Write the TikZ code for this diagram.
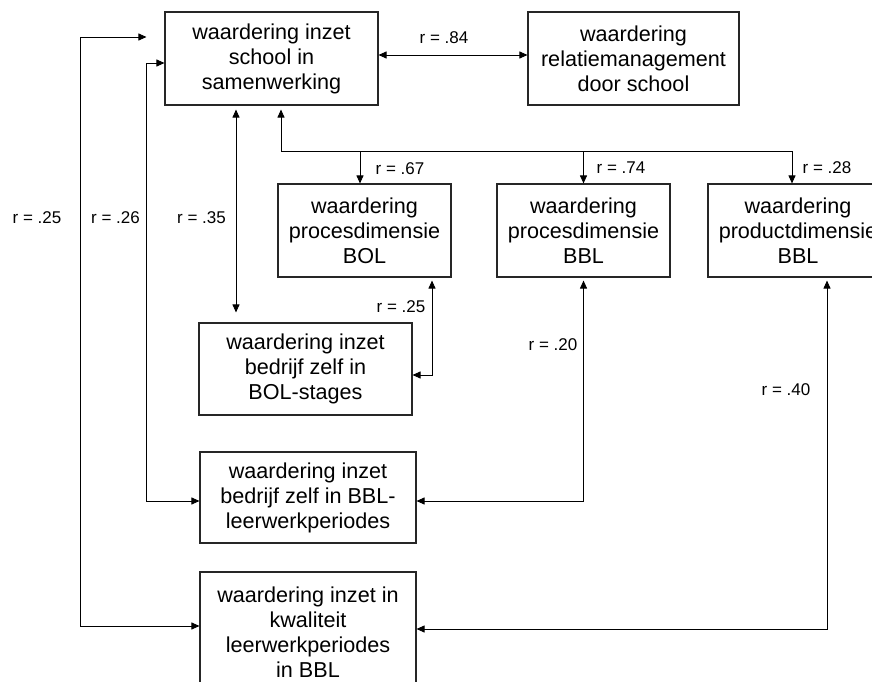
\documentclass[tikz,border=0pt]{standalone}
\usepackage{fontspec}
\setmainfont{Liberation Sans}
\usepackage{tikz}
\usetikzlibrary{positioning,calc,arrows.meta}

\begin{document}
\begin{tikzpicture}[x=1pt, y=-1pt,
	blok/.style={draw=black!85, line width=1.1pt, align=center, inner sep=0pt,
		minimum height=93pt, font=\fontsize{21.6}{25}\selectfont},
	lbl/.style={font=\fontsize{17}{20}\selectfont, inner sep=0pt},
	lijn/.style={line width=0.9pt, -{Triangle[length=8pt,width=7pt]}},
	dub/.style={line width=0.9pt, {Triangle[length=8pt,width=7pt]}-{Triangle[length=8pt,width=7pt]}}
	]
	\useasboundingbox (0,0) rectangle (872,682);
	\clip (0,0) rectangle (872,682);

	% boxes
	\node[blok, minimum width=213pt] (school) at (271.5,58.5) {waardering inzet\\school in\\samenwerking};
	\node[blok, minimum width=211pt] (relatie) at (633.5,58.5) {waardering\\relatiemanagement\\door school};
	\node[blok, minimum width=173pt] (bolproc) at (364.5,230.5) {waardering\\procesdimensie\\BOL};
	\node[blok, minimum width=173pt] (bblproc) at (583.5,230.5) {waardering\\procesdimensie\\BBL};
	\node[blok, minimum width=180pt] (product) at (798,230.5) {waardering\\productdimensie\\BBL};
	\node[blok, minimum width=213pt, minimum height=92pt] (bolstage) at (305.5,369) {waardering inzet\\bedrijf zelf in\\BOL-stages};
	\node[blok, minimum width=216pt, minimum height=91pt] (bblleer) at (308,497.5) {waardering inzet\\bedrijf zelf in BBL-\\leerwerkperiodes};
	\node[blok, minimum width=216pt, minimum height=120pt] (kwal) at (308,632) {waardering inzet in\\kwaliteit\\leerwerkperiodes\\in BBL};

	% connectors
	\draw[dub] ([yshift=3.5pt]school.east) -- ([yshift=3.5pt]relatie.west);
	\coordinate (hub) at (281,151);
	\coordinate (hubR) at (792,151);
	\draw[lijn, shorten >=4pt] (hubR) -- (hub) -- ([xshift=9.5pt]school.south);
	\draw[lijn] (hub -| 360,0) -- ([xshift=-4.5pt]bolproc.north);
	\draw[lijn] (hub -| bblproc.north) -- (bblproc.north);
	\draw[lijn] (hubR) -- ([xshift=-6pt]product.north);
	\draw[dub, shorten <=4pt, shorten >=10pt] ([xshift=-35.5pt]school.south) -- ([xshift=-69.5pt]bolstage.north);
	\draw[dub, shorten <=3pt] ([xshift=67.5pt]bolproc.south) |- ([yshift=-6pt]bolstage.east);
	\draw[dub, shorten <=3pt] (bblproc.south) |- ([yshift=-3.5pt]bblleer.east);
	\draw[dub, shorten <=3pt] ([xshift=29pt]product.south) |- ([yshift=3pt]kwal.east);
	\draw[dub] ([yshift=-4.5pt]school.west) -- ++(-18,0) |- ([yshift=-3.5pt]bblleer.west);
	\draw[dub] ([xshift=-18pt,yshift=21.5pt]school.west) -- ++(-66,0) |- ([yshift=6pt]kwal.west);

	% labels
	\node[lbl] (r84) at (444,38) {r = .84};
	\node[lbl] (r67) at (400,169) {r = .67};
	\node[lbl] (r74) at (621,168) {r = .74};
	\node[lbl] (r28) at (827,168) {r = .28};
	\node[lbl] (r25a) at (37,218) {r = .25};
	\node[lbl] (r26) at (115.5,218) {r = .26};
	\node[lbl] (r35) at (201.5,218) {r = .35};
	\node[lbl] (r25b) at (401,307) {r = .25};
	\node[lbl] (r20) at (553,345) {r = .20};
	\node[lbl] (r40) at (786,390) {r = .40};
\end{tikzpicture}
\end{document}
